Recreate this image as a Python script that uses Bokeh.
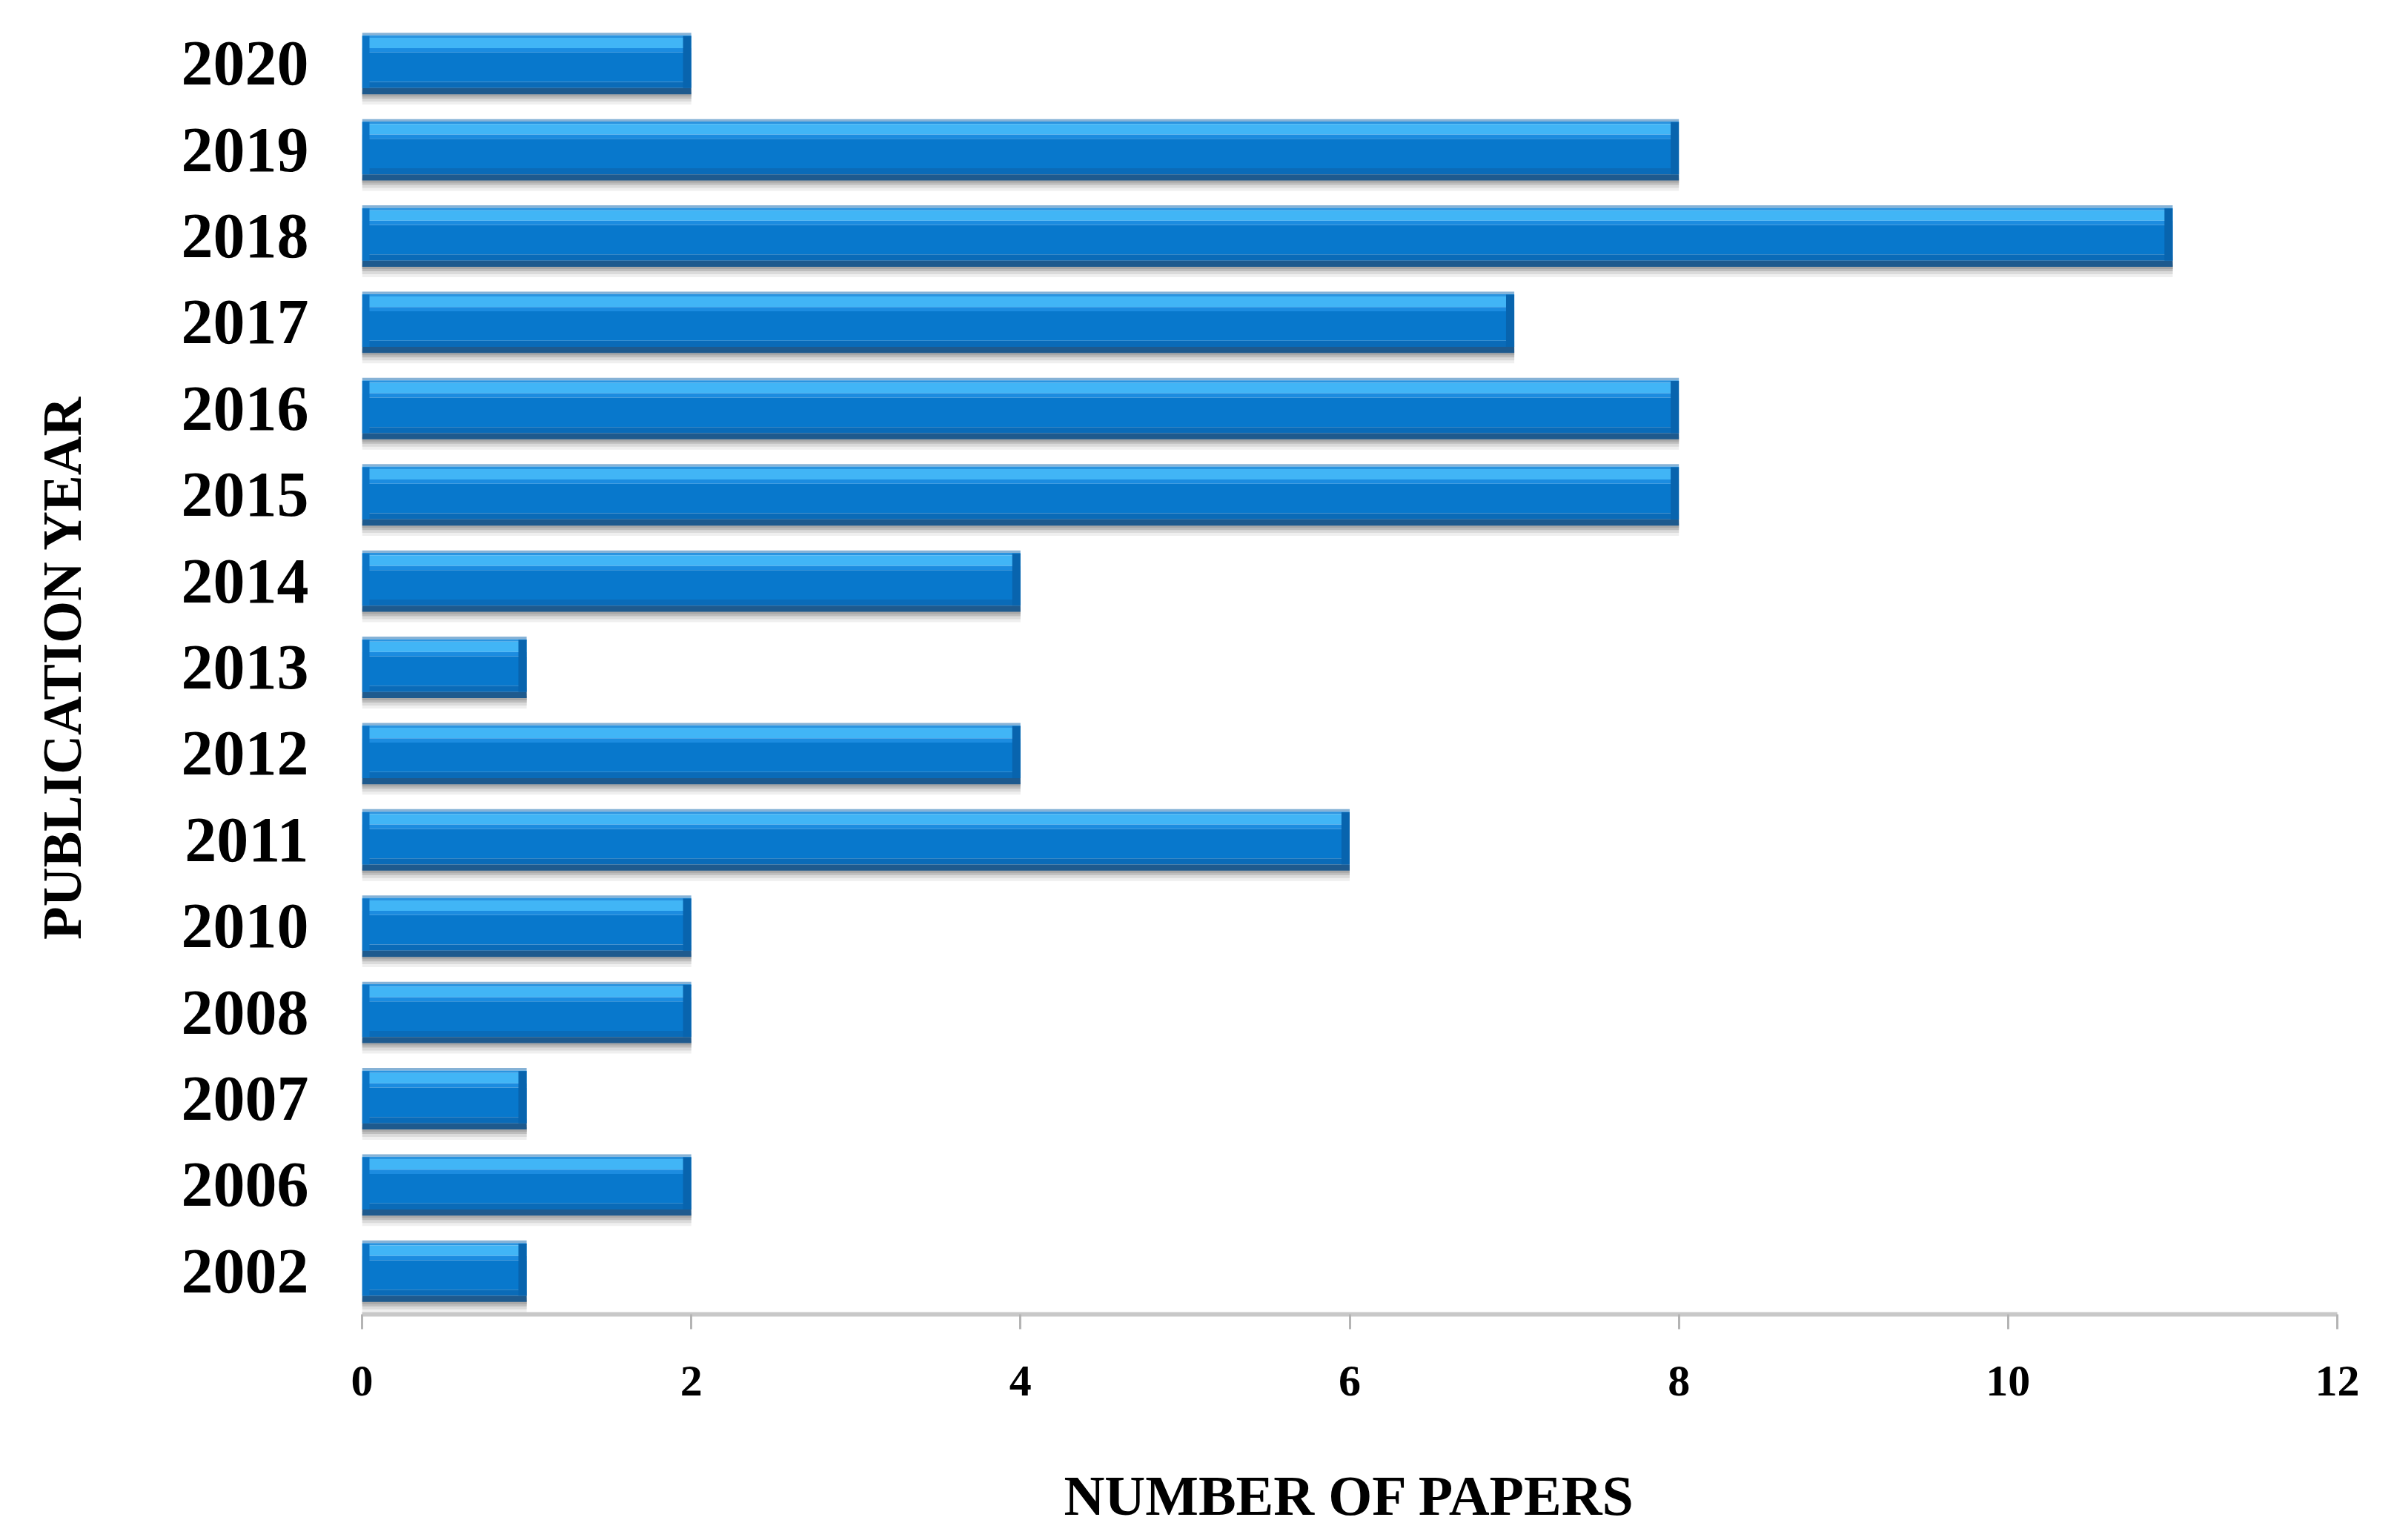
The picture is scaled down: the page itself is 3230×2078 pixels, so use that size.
from bokeh.plotting import figure
from bokeh.models import FactorRange, Range1d, ColumnDataSource, FixedTicker
from bokeh.transform import dodge
from bokeh.embed import file_html
from bokeh.resources import INLINE

# ---- data ----
years = ["2020", "2019", "2018", "2017", "2016", "2015", "2014", "2013",
         "2012", "2011", "2010", "2008", "2007", "2006", "2002"]
papers = [2, 8, 11, 7, 8, 8, 4, 1, 4, 6, 2, 2, 1, 2, 1]
x_ticks = [0, 2, 4, 6, 8, 10, 12]

FONT = "Liberation Serif"

factors = years[::-1]
p = figure(width=3214, height=2062,
           y_range=FactorRange(factors=factors, range_padding=0),
           x_range=Range1d(0, 12),
           output_backend="svg", toolbar_location=None,
           min_border_left=488, min_border_right=61,
           min_border_top=27, min_border_bottom=285)

src = ColumnDataSource(dict(
    year=years,
    n=papers,
    zero=[0] * len(papers),
    lcap=[0.045] * len(papers),
    rcap=[v - 0.05 for v in papers],
))

BAND_PX = 116.6
H = 0.712  # bar height as fraction of band

def px(v):
    return v / BAND_PX

# shadow layers (below the bar)
bar_bottom = -H / 2
for extra, col in [(14, "#efefef"), (10, "#dadada"), (6, "#bdbdbd"), (3, "#a8a8a8")]:
    h = px(extra) * 2
    p.hbar(y=dodge("year", bar_bottom, range=p.y_range), left="zero", right="n",
           height=h, source=src, fill_color=col, line_color=None)

# bevelled bar strips (fraction of bar height from top)
strips = [
    (0.00, 0.04, "#86b2d6"),
    (0.04, 0.08, "#2a94e0"),
    (0.08, 0.25, "#41b5f6"),
    (0.25, 0.32, "#1c8ce0"),
    (0.32, 0.80, "#0878cc"),
    (0.80, 0.90, "#0a6bb8"),
    (0.90, 1.00, "#1e5a8e"),
]
for t0, t1, col in strips:
    off = H / 2 - H * (t0 + t1) / 2
    p.hbar(y=dodge("year", off, range=p.y_range), left="zero", right="n",
           height=H * (t1 - t0), source=src, fill_color=col, line_color=None)

# end caps
cap_t0, cap_t1 = 0.05, 0.90
cap_off = H / 2 - H * (cap_t0 + cap_t1) / 2
p.hbar(y=dodge("year", cap_off, range=p.y_range), left="zero", right="lcap",
       height=H * (cap_t1 - cap_t0), source=src, fill_color="#0b74c6", line_color=None)
p.hbar(y=dodge("year", cap_off, range=p.y_range), left="rcap", right="n",
       height=H * (cap_t1 - cap_t0), source=src, fill_color="#0864ae", line_color=None)

# ---- axes ----
p.xgrid.grid_line_color = None
p.ygrid.grid_line_color = None
p.outline_line_color = None
p.background_fill_color = "white"
p.border_fill_color = "white"

xa = p.xaxis[0]
xa.ticker = FixedTicker(ticks=x_ticks)
xa.axis_line_color = "#c8c8c8"
xa.axis_line_width = 6
xa.major_tick_line_color = "#b4b4b4"
xa.major_tick_line_width = 3
xa.major_tick_out = 20
xa.major_tick_in = 0
xa.minor_tick_line_color = None
xa.major_label_text_font = FONT
xa.major_label_text_font_style = "bold"
xa.major_label_text_font_size = "60px"
xa.major_label_text_color = "black"
xa.major_label_standoff = 50
xa.axis_label = "NUMBER OF PAPERS"
xa.axis_label_text_font = FONT
xa.axis_label_text_font_style = "bold"
xa.axis_label_text_font_size = "76px"
xa.axis_label_text_color = "black"
xa.axis_label_standoff = 90

ya = p.yaxis[0]
ya.axis_line_color = None
ya.major_tick_line_color = None
ya.minor_tick_line_color = None
ya.major_label_text_font = FONT
ya.major_label_text_font_style = "bold"
ya.major_label_text_font_size = "86px"
ya.major_label_text_color = "black"
ya.major_label_standoff = 66
ya.axis_label = "PUBLICATION YEAR"
ya.axis_label_text_font = FONT
ya.axis_label_text_font_style = "bold"
ya.axis_label_text_font_size = "73px"
ya.axis_label_text_color = "black"
ya.axis_label_standoff = 117

open("out.html", "w").write(file_html(p, INLINE))
